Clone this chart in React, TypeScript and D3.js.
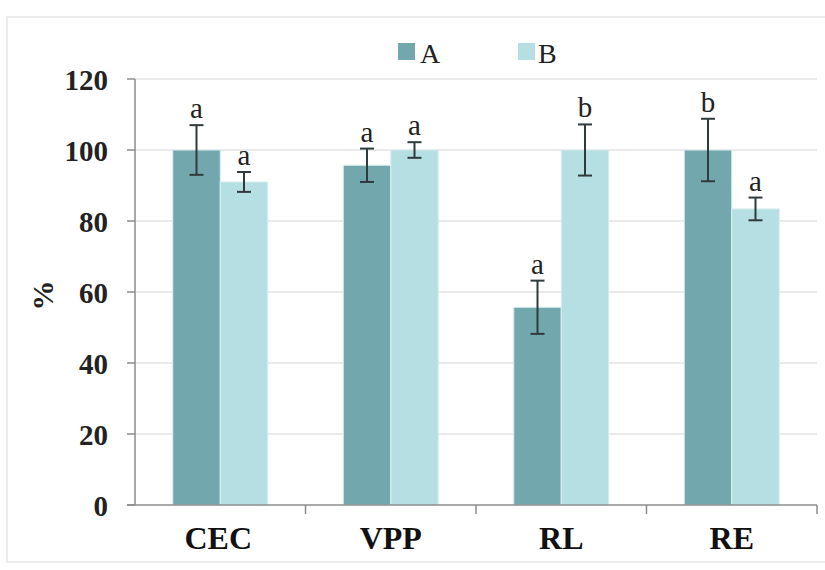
import React from "react";
import * as d3 from "d3";

const categories = ["CEC", "VPP", "RL", "RE"];
const seriesNames = ["A", "B"];
const valuesA = [100, 95.7, 55.7, 100];
const valuesB = [91, 100, 100, 83.4];
const errA = [7, 4.7, 7.5, 8.8];
const errB = [2.8, 2.2, 7.2, 3.2];
const lettersA = ["a", "a", "a", "b"];
const lettersB = ["a", "a", "b", "a"];
const yTicks = [0, 20, 40, 60, 80, 100, 120];

const colors = ["#72a7ad", "#b6dfe3"];

export default function App() {
  const W = 825, H = 570;
  const x0 = 135, x1 = 817, yTop = 79, yBot = 505;
  const x = d3.scaleBand<string>().domain(categories).range([x0, x1]).paddingInner(0).paddingOuter(0);
  const y = d3.scaleLinear().domain([0, 120]).range([yBot, yTop]);
  const groupW = 95;
  const xs = d3.scaleBand<string>().domain(seriesNames).range([0, groupW]);
  const series = [
    { vals: valuesA, errs: errA, letters: lettersA },
    { vals: valuesB, errs: errB, letters: lettersB },
  ];
  const serif = "'Liberation Serif', 'DejaVu Serif', serif";
  const tx = (size: number, bold = false) => ({ fontFamily: serif, fontSize: size + "px", fontWeight: bold ? 700 : 400 });
  return (
    <svg width={W} height={H} style={{ position: "absolute", left: 0, top: 0, background: "#fff" }}>
      <rect x={7} y={17} width={830} height={545} fill="#fff" stroke="#e6e6e6" strokeWidth={1.5} />
      {yTicks.filter(t => t > 0).map(t => (
        <line key={"g" + t} x1={x0} x2={x1} y1={y(t)} y2={y(t)} stroke="#e3e3e3" strokeWidth={1.5} />
      ))}
      {categories.map((c, i) => {
        const gx = x(c)! + (x.bandwidth() - groupW) / 2;
        return series.map((s, j) => {
          const bx = gx + xs(seriesNames[j])!;
          const bw = xs.bandwidth();
          const cx = bx + bw / 2;
          const v = s.vals[i], e = s.errs[i];
          return (
            <g key={c + j}>
              <rect x={bx} y={y(v)} width={bw} height={yBot - y(v)} fill={colors[j]} stroke="#d9eef0" strokeWidth={1} />
              <line x1={cx} x2={cx} y1={y(v + e)} y2={y(v - e)} stroke="#2f3a3c" strokeWidth={2} />
              <line x1={cx - 7} x2={cx + 7} y1={y(v + e)} y2={y(v + e)} stroke="#2f3a3c" strokeWidth={2} />
              <line x1={cx - 7} x2={cx + 7} y1={y(v - e)} y2={y(v - e)} stroke="#2f3a3c" strokeWidth={2} />
              <text x={cx} y={y(v + e) - 7} textAnchor="middle" style={tx(29)} fill="#222">{s.letters[i]}</text>
            </g>
          );
        });
      })}
      <line x1={x0} x2={x0} y1={yTop} y2={yBot} stroke="#8c8c8c" strokeWidth={1.5} />
      <line x1={x0 - 8} x2={x1} y1={yBot} y2={yBot} stroke="#8c8c8c" strokeWidth={1.5} />
      {yTicks.map(t => (
        <g key={"t" + t}>
          <line x1={x0 - 8} x2={x0} y1={y(t)} y2={y(t)} stroke="#8c8c8c" strokeWidth={1.5} />
          <text x={108} y={y(t) + 11} textAnchor="end" style={tx(29, true)} fill="#222">{t}</text>
        </g>
      ))}
      {categories.map((c, i) => (
        <g key={"c" + c}>
          <line x1={x(c)! + x.bandwidth()} x2={x(c)! + x.bandwidth()} y1={yBot} y2={yBot + 9} stroke="#8c8c8c" strokeWidth={1.5} />
          <text x={x(c)! + x.bandwidth() / 2 - (i === 0 ? 2 : 0)} y={549} textAnchor="middle" style={tx(32, true)} fill="#111">{c}</text>
        </g>
      ))}
      <text transform={`translate(53,${y(59)}) rotate(-90)`} textAnchor="middle" style={tx(30, true)} fill="#222">%</text>
      {seriesNames.map((n, j) => (
        <g key={"l" + n}>
          <rect x={398 + j * 120} y={43} width={17} height={17} fill={colors[j]} />
          <text x={420 + j * 118} y={63} style={tx(28)} fill="#222">{n}</text>
        </g>
      ))}
    </svg>
  );
}
